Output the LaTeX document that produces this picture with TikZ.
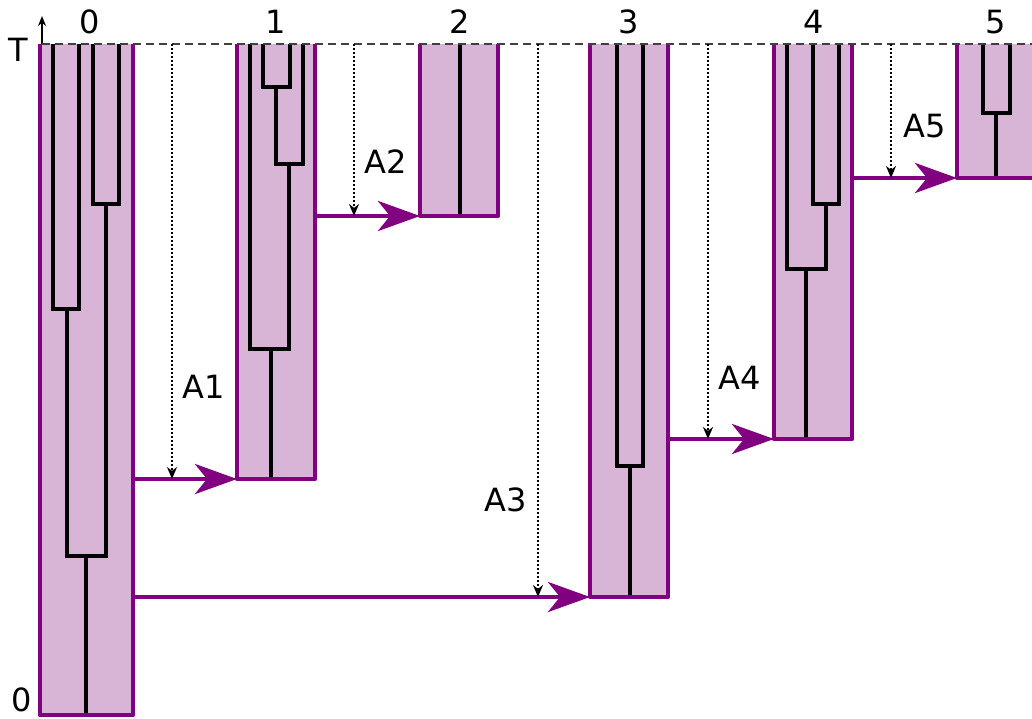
\documentclass[tikz,border=0pt]{standalone}
\usepackage{fontspec}
\setmainfont{DejaVu Sans}
\usetikzlibrary{arrows.meta,fit}

\definecolor{boxpurple}{RGB}{128,0,128}
\definecolor{boxfill}{RGB}{216,181,214}

\begin{document}
\begin{tikzpicture}[x=0.5pt, y=-0.5pt, font=\fontsize{16}{19}\selectfont,
        box/.style={fill=boxfill, inner sep=0pt, outer sep=0pt},
        boxline/.style={draw=boxpurple, line width=2.3pt, line join=round},
        tree/.style={draw=black, line width=1.6pt},
        flow/.style={draw=boxpurple, line width=2.3pt, -{Stealth[length=21pt,width=15pt,inset=6pt]}},
        drop/.style={draw=black, line width=1.2pt, dash pattern=on 1pt off 1pt, -{Stealth[length=6pt,width=5pt]}}]
        % Page frame
        \clip (0,0) rectangle (1032,718);

        % Boxes for every step
        \foreach \n/\l/\r/\b in {0/40/133/715, 1/237/315/479, 2/420/498/216, 3/590/668/597, 4/774/852/439, 5/957/1045/178}
            \node [box, fit={(\l,44) (\r,\b)}] (box-\n) {};

        % Trees inside box 0
        \draw [tree] (93,44) |- (106,204) -| (119,44);
        \draw [tree] (53,44) |- (67,309) -| (79,44);
        \draw [tree] (67,309) |- (86,556) -| (106,204);
        \draw [tree] (86,556) -- (86,715);

        % Trees inside box 1
        \draw [tree] (263,44) |- (276,87) -| (290,44);
        \draw [tree] (276,87) |- (289,164) -| (303,44);
        \draw [tree] (250,44) |- (271,349) -| (289,164);
        \draw [tree] (271,349) -- (271,479);

        % Tree inside box 2
        \draw [tree] (460,44) -- (460,216);

        % Tree inside box 3
        \draw [tree] (617,44) |- (630,466) -| (643,44);
        \draw [tree] (630,466) -- (630,597);

        % Trees inside box 4
        \draw [tree] (813,44) |- (826,204) -| (839,44);
        \draw [tree] (787,44) |- (806,269) -| (826,204);
        \draw [tree] (806,269) -- (806,439);

        % Tree inside box 5
        \draw [tree] (983,44) |- (996,113) -| (1010,44);
        \draw [tree] (996,113) -- (996,178);

        % Box borders, open at the top
        \foreach \n in {0,...,5}
            \draw [boxline] (box-\n.north west) |- (box-\n.south east) -- (box-\n.north east);

        % Time axis
        \coordinate (axis-top) at (42,16);
        \coordinate (axis-base) at (42,44);
        \draw [line width=0.8pt, -{Stealth[length=5pt,width=4pt]}] (axis-base) -- (axis-top);
        \draw [black!75, dashed, line width=1pt, dash pattern=on 4pt off 2.5pt] (axis-base) -- (1032,44);
        \node (time-T) at (18,50) {T};
        \node [inner sep=1pt] (time-0) at (22,700) {0};

        % Step numbers
        \foreach \n/\x in {0/90, 1/276, 2/460, 3/629, 4/814, 5/996}
            \node (num-\n) at (\x,22) {\n};

        % Hand-over arrows between boxes
        \foreach \s/\t in {0/1, 1/2, 0/3, 3/4, 4/5}
            \draw [flow] (box-\s.east |- box-\t.south) -- (box-\t.south west);

        % Dotted drops from the top line
        \foreach \t/\x in {1/172, 2/354, 3/538, 4/708, 5/891} {
            \coordinate (drop-\t) at (\x,44);
            \draw [drop] (drop-\t) -- (drop-\t |- box-\t.south);
        }

        % Annotate the drops
        \foreach \t/\x/\y in {1/204/387, 2/386/162, 3/506/500, 4/740/378, 5/925/126}
            \node (act-\t) at (\x,\y) {A\t};
\end{tikzpicture}
\end{document}
